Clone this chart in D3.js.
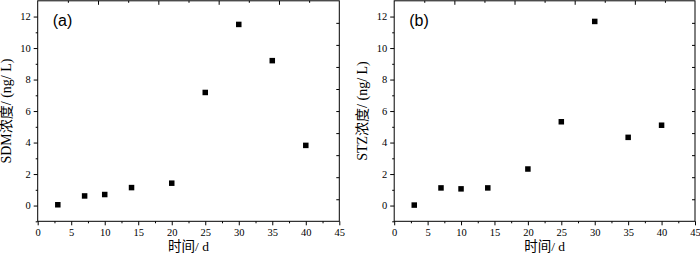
<!DOCTYPE html>
<html><head><meta charset="utf-8">
<script src="https://cdn.jsdelivr.net/npm/d3@7"></script>
<style>html,body{margin:0;padding:0;background:#fff;}svg{display:block;}</style>
</head><body>
<svg id="c" width="700" height="255"></svg>
<script>
const days = [3, 7, 10, 14, 20, 25, 30, 35, 40];
const sdmValues = [0.05, 0.61, 0.70, 1.14, 1.42, 7.18, 11.5, 9.2, 3.82];
const stzValues = [0.03, 1.12, 1.06, 1.12, 2.32, 5.32, 11.69, 4.33, 5.1];
const xTicks = [0, 5, 10, 15, 20, 25, 30, 35, 40, 45];
const yTicks = [0, 2, 4, 6, 8, 10, 12];
const panels = [
  {label: "(a)", ytitle: "SDM浓度/ (ng/ L)", values: sdmValues, x0: 37.7, x1: 339.3},
  {label: "(b)", ytitle: "STZ浓度/ (ng/ L)", values: stzValues, x0: 394.2, x1: 695}
];
const svg = d3.select("#c");
const serif = "'Liberation Serif','Times New Roman','Noto Sans CJK SC',serif";
const plotTop = 0.8, plotBottom = 221.3;

panels.forEach(p => {
  const x = d3.scaleLinear().domain([0, 45]).range([p.x0, p.x1]);
  const y = d3.scaleLinear().domain([-1, 13]).range([plotBottom, plotTop]);
  const g = svg.append("g");

  g.append("rect").attr("x", p.x0).attr("y", plotTop).attr("width", p.x1 - p.x0).attr("height", plotBottom - plotTop)
    .attr("fill", "none").attr("stroke", "#000").attr("stroke-width", 1);

  const bx = g.append("g").attr("transform", `translate(0,${plotBottom})`)
    .call(d3.axisBottom(x).tickValues(xTicks).tickSize(4).tickPadding(3).tickFormat(d3.format("d")));
  bx.select(".domain").remove();
  bx.selectAll("text").attr("font-family", serif).attr("font-size", 10.5).attr("fill", "#000");
  g.append("g").attr("transform", `translate(0,${plotBottom})`)
    .call(d3.axisBottom(x).tickValues(d3.range(2.5, 45, 5)).tickSize(2).tickFormat(""))
    .select(".domain").remove();

  const ly = g.append("g").attr("transform", `translate(${p.x0},0)`)
    .call(d3.axisLeft(y).tickValues(yTicks).tickSize(4).tickPadding(3).tickFormat(d3.format("d")));
  ly.select(".domain").remove();
  ly.selectAll("text").attr("font-family", serif).attr("font-size", 10.5).attr("fill", "#000");
  g.append("g").attr("transform", `translate(${p.x0},0)`)
    .call(d3.axisLeft(y).tickValues([-1, 1, 3, 5, 7, 9, 11]).tickSize(2).tickFormat(""))
    .select(".domain").remove();

  const xt = d3.scaleLinear().domain([0, 45]).range([p.x0, p.x1]);
  g.append("g").attr("transform", `translate(0,${plotTop})`)
    .call(d3.axisBottom(xt).tickValues([9, 18, 27, 36]).tickSize(4).tickFormat(""))
    .select(".domain").remove();
  g.append("g").attr("transform", `translate(0,${plotTop})`)
    .call(d3.axisBottom(xt).tickValues([4.5, 13.5, 22.5, 31.5, 40.5]).tickSize(2).tickFormat(""))
    .select(".domain").remove();
  const yr = d3.scaleLinear().domain([0, 10]).range([plotBottom, plotTop]);
  g.append("g").attr("transform", `translate(${p.x1},0)`)
    .call(d3.axisLeft(yr).tickValues([1, 2, 3, 4, 5, 6, 7, 8, 9]).tickSize(3).tickFormat(""))
    .select(".domain").remove();

  g.selectAll("rect.pt").data(days.map((d, i) => [d, p.values[i]])).enter().append("rect")
    .attr("class", "pt")
    .attr("x", d => x(d[0]) - 2.75).attr("y", d => y(d[1]) - 2.75)
    .attr("width", 5.5).attr("height", 5.5).attr("fill", "#000");

  g.append("text").attr("x", p.x0 + 15).attr("y", 26).text(p.label)
    .attr("font-family", "'Liberation Sans',Arial,sans-serif").attr("font-size", 16).attr("fill", "#000");

  g.append("text").attr("x", (p.x0 + p.x1) / 2).attr("y", 251).attr("text-anchor", "middle")
    .attr("font-family", serif).attr("font-size", 13.5).attr("fill", "#000").text("时间/ d");
  g.append("text").attr("transform", `translate(${p.x0 - 27},${(plotTop + plotBottom) / 2}) rotate(-90)`)
    .attr("text-anchor", "middle").attr("font-family", serif).attr("font-size", 14).attr("fill", "#000")
    .text(p.ytitle);
});
</script>
</body></html>
